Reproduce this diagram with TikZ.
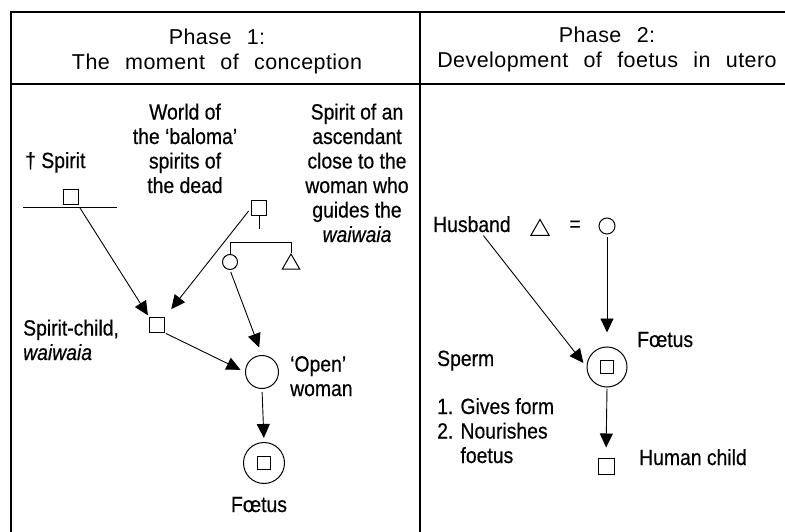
\documentclass[tikz,border=0pt]{standalone}
\usepackage{fontspec}
\setmainfont[FakeStretch=0.88,FakeBold=0.5]{Liberation Sans}
\newfontfamily\headfont[WordSpace=2.4,LetterSpace=2]{Liberation Sans}
\usetikzlibrary{arrows.meta}
\usetikzlibrary{shapes.geometric}
\usetikzlibrary{calc}

\begin{document}
\begin{tikzpicture}[x=1pt,y=-1pt,
    every node/.style={font=\fontsize{22}{24.5}\selectfont, inner sep=0pt},
    head/.style={font=\headfont\fontsize{21.5}{25}\selectfont, align=center, anchor=base},
    frame/.style={line width=1.6pt},
    sq/.style={draw, line width=1pt, minimum size=15pt},
    circ/.style={draw, circle, line width=1pt, minimum size=15pt},
    tri/.style={draw, regular polygon, regular polygon sides=3, line width=1pt, minimum size=20pt},
    arr/.style={line width=0.9pt, -{Triangle[length=14pt,width=13pt]}}]
    \useasboundingbox (0,0) rectangle (785,532);

    % Table
    \draw[frame] (11,532) -- (11,12) -- (785,12);
    \draw[frame] (11,84) -- (785,84);
    \draw[frame] (420,12) -- (420,532);

    % Headings (base = last line)
    \node[head] (h1) at (217,70) {Phase 1:\\The moment of conception};
    \node[head] (h2) at (607,68) {Phase 2:\\Development of foetus in utero};

    % Phase 1: labels
    \node[anchor=base west] (lsp) at (25,168) {† Spirit};
    \node[anchor=base, align=center] (lwd) at (185,193) {World of\\the ‘baloma’\\spirits of\\the dead};
    \node[anchor=base, align=center] (las) at (357,242) {Spirit of an\\ascendant\\close to the\\woman who\\guides the\\\textit{waiwaia}};
    \node[anchor=base west, align=left] (lsc) at (23,360) {Spirit-child,\\\textit{waiwaia}};
    \node[anchor=base west, align=left] (low) at (290,396) {‘Open’\\woman};
    \node[anchor=base] (lf1) at (259,512) {Fœtus};

    % Dead spirit
    \node[sq] (sp) at (71,197) {};
    \coordinate (g1) at (23,208);
    \coordinate (g2) at (117,208);
    \coordinate (gv) at (80,208);
    \draw[line width=1pt] (g1) -- (g2);

    % Ascendant and siblings
    \node[sq] (an) at (259,208) {};
    \coordinate (fb) at (259,229);
    \node[circ] (cw) at (230,262) {};
    \node[tri] (cm) at (291,264) {};
    \draw[line width=1pt] (an) -- (fb);
    \draw[line width=1pt] (cw.north) -- ++(0,-12) -| (cm.north);

    % Spirit-child, woman, foetus
    \node[sq] (sc) at (157,325) {};
    \node[draw, circle, line width=1pt, minimum size=33pt] (ow) at (262,372) {};
    \node[draw, circle, line width=1pt, minimum size=41pt] (f1) at (264,463) {};
    \node[sq, minimum size=13pt] (f1c) at (f1) {};

    % Phase 1: arrows
    \draw[arr, shorten >=2pt] (gv) -- (sc.north west);
    \draw[arr, shorten <=4pt, shorten >=10pt] (an.west) -- (sc.north east);
    \draw[arr, shorten <=2pt, shorten >=8pt] (cw.south) -- (ow.north);
    \draw[arr, shorten <=1pt, shorten >=5pt] (sc.south east) -- (ow.west);
    \draw[arr, shorten <=3pt, shorten >=4pt] (ow.south) -- (f1.north);

    % Phase 2: labels
    \node[anchor=base west] (hb) at (433,232) {Husband};
    \node (eq) at (575,226) {=};
    \node[anchor=base west] (lf2) at (637,347) {Fœtus};
    \node[anchor=base west] (lsm) at (437,366) {Sperm};
    \node[anchor=base west, align=left] (lls) at (437,463) {1. Gives form\\2. Nourishes\\\phantom{2. }foetus};
    \node[anchor=base west] (lhc) at (639,465) {Human child};

    % Couple, foetus, child
    \node[tri, minimum size=21pt] (hu) at (540,230) {};
    \node[circ, minimum size=16pt] (wf) at (607,226) {};
    \node[draw, circle, line width=1pt, minimum size=40pt] (f2) at (607,367) {};
    \node[sq, minimum size=13pt] (f2c) at (f2) {};
    \node[sq, minimum size=16pt] (hc) at (606,466) {};

    % Phase 2: arrows
    \draw[arr, shorten <=2pt, shorten >=14pt] (wf.south) -- (f2.north);
    \draw[arr, shorten <=4pt, shorten >=5pt] ($(hb.south)+(9,0)$) -- (f2.west);
    \draw[arr, shorten <=1pt, shorten >=10pt] (f2.south) -- (hc.north);
\end{tikzpicture}
\end{document}
